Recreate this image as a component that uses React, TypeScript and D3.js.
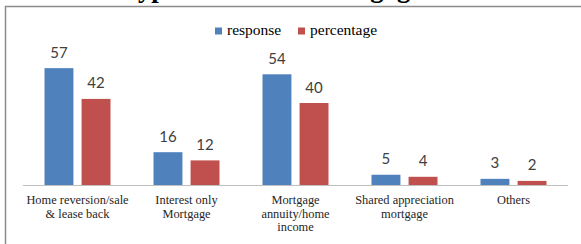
import React from 'react';
import * as d3 from 'd3';

const title = 'Types of reverse mortgage';
const categories = ['home', 'interest', 'annuity', 'shared', 'others'];
const categoryLabels = [
  ['Home reversion/sale', '& lease back'],
  ['Interest only', 'Mortgage'],
  ['Mortgage', 'annuity/home', 'income'],
  ['Shared appreciation', 'mortgage'],
  ['Others'],
];
const seriesNames = ['response', 'percentage'];
const seriesColors = ['#4F81BD', '#C0504D'];
const response = [57, 16, 54, 5, 3];
const percentage = [42, 12, 40, 4, 2];
const seriesValues = [response, percentage];

const W = 581;
const H = 244;

const App: React.FC = () => {
  const margin = { left: 23, right: 13, top: 62, bottom: 59 };
  const baseY = H - margin.bottom;

  const x = d3.scaleBand<string>()
    .domain(categories)
    .range([margin.left, W - margin.right])
    .paddingInner(0)
    .paddingOuter(0);

  const sub = d3.scaleBand<string>()
    .domain(seriesNames)
    .range([-33, 33])
    .paddingInner(0.22);

  const y = d3.scaleLinear().domain([0, 60]).range([baseY, margin.top]);

  return (
    <svg
      width={W}
      height={H}
      style={{ position: 'absolute', left: 0, top: 0, background: '#fff' }}
    >
      {/* title, mostly cut off at the top edge */}
      <text
        x={122}
        y={-3}
        fontFamily="'Liberation Serif', serif"
        fontWeight="bold"
        fontSize={26.8}
        fill="#000"
      >
        {title}
      </text>

      {/* chart frame */}
      <path d={`M5.5,${H + 10} V6.5 H${W + 10}`} fill="none" stroke="#8c8c8c" strokeWidth={1.5} />

      {/* legend */}
      {seriesNames.map((name, i) => {
        const lx = i === 0 ? 215 : 298;
        return (
          <g key={name}>
            <rect x={lx} y={27.5} width={7} height={7} fill={seriesColors[i]} />
            <text
              x={lx + 12}
              y={35.3}
              fontFamily="'Liberation Serif', serif"
              fontSize={15.5}
              fill="#000"
            >
              {name}
            </text>
          </g>
        );
      })}

      {/* bars */}
      {categories.map((c, ci) => {
        const cx = (x(c) ?? 0) + x.bandwidth() / 2;
        return (
          <g key={c}>
            {seriesNames.map((s, si) => {
              const v = seriesValues[si][ci];
              const bx = cx + (sub(s) ?? 0);
              return (
                <g key={s}>
                  <rect
                    x={bx}
                    y={y(v)}
                    width={sub.bandwidth()}
                    height={baseY - y(v)}
                    fill={seriesColors[si]}
                  />
                  <text
                    x={bx + sub.bandwidth() / 2}
                    y={y(v) - 10.5}
                    textAnchor="middle"
                    fontFamily="Lato, 'Open Sans', sans-serif"
                    fontSize={15}
                    fill="#404040"
                  >
                    {v}
                  </text>
                </g>
              );
            })}
            {categoryLabels[ci].map((line, li) => (
              <text
                key={li}
                x={cx}
                y={204 + li * 13.5}
                textAnchor="middle"
                fontFamily="'Liberation Serif', serif"
                fontSize={12.4}
                fill="#262626"
              >
                {line}
              </text>
            ))}
          </g>
        );
      })}

      {/* category axis */}
      <line
        x1={margin.left}
        x2={W - margin.right}
        y1={baseY + 0.5}
        y2={baseY + 0.5}
        stroke="#bfbfbf"
        strokeWidth={1.2}
      />
    </svg>
  );
};

export default App;
